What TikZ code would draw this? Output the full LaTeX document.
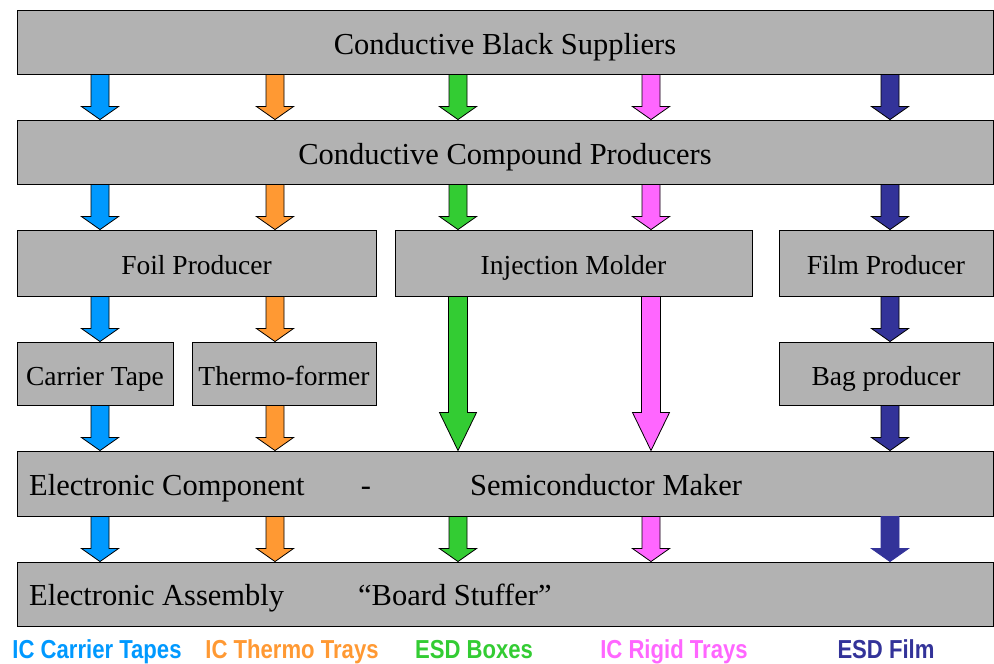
\documentclass[tikz,border=0pt]{standalone}
\usepackage{fontspec}
\setmainfont{Liberation Serif}
\newfontfamily\legendfont[FakeStretch=0.85]{Liberation Sans}
\usetikzlibrary{calc}

\definecolor{boxgray}{HTML}{B2B2B2}
\definecolor{cblue}{HTML}{0099FF}
\definecolor{corange}{HTML}{FF9933}
\definecolor{cgreen}{HTML}{33CC33}
\definecolor{cpink}{HTML}{FF66FF}
\definecolor{cnavy}{HTML}{333399}

% block arrow from the bottom of one node to the top of another,
% placed on a column coordinate; #1 = head length, #6 = shaft half width
\newcommand\flowarrow[6][13pt]{%
  \path[draw=black, line width=0.8pt, line join=miter, #2]
    let \p1=(#3 |- #4.south), \p2=(#3 |- #5.north) in
    ({\x1-#6},\y1) -- ({\x1+#6},\y1) -- ({\x1+#6},{\y2+#1})
    -- ({\x1+18.5pt},{\y2+#1}) -- (\x1,\y2) -- ({\x1-18.5pt},{\y2+#1})
    -- ({\x1-#6},{\y2+#1}) -- cycle;}

\begin{document}
\begin{tikzpicture}[x=1pt,y=-1pt,
  box/.style={draw=black, fill=boxgray, line width=0.9pt, inner sep=0pt,
    rectangle, text height=25pt, text depth=0pt,
    font=\fontsize{30.5}{34}\selectfont},
  smallbox/.style={box, text height=23pt, font=\fontsize{27.5}{31}\selectfont},
  rowtext/.style={inner sep=0pt, font=\fontsize{30.5}{34}\selectfont},
  legend/.style={inner sep=0pt, anchor=base,
    font=\legendfont\bfseries\fontsize{26}{30}\selectfont}]

\useasboundingbox[fill=white] (0,0) rectangle (994,664);

% column positions of the material streams
\coordinate (cA) at (100,0);
\coordinate (cB) at (275,0);
\coordinate (cC) at (458,0);
\coordinate (cD) at (651,0);
\coordinate (cE) at (890,0);

% supply chain levels
\node[box, minimum width=976pt, minimum height=64pt] (sup) at (505,42) {Conductive Black Suppliers};
\node[box, minimum width=976pt, minimum height=64pt] (comp) at (505,152) {Conductive Compound Producers};

\node[smallbox, minimum width=359pt, minimum height=66pt] (foil) at (196.5,263) {Foil Producer};
\node[smallbox, minimum width=357pt, minimum height=66pt] (inj) at (573.5,263) {Injection Molder};
\node[smallbox, minimum width=214pt, minimum height=66pt] (film) at (886,263) {Film Producer};

\node[smallbox, minimum width=156pt, minimum height=63pt] (tape) at (95,373.5) {Carrier Tape};
\node[smallbox, minimum width=184pt, minimum height=63pt] (thermo) at (284,373.5) {Thermo-former};
\node[smallbox, minimum width=214pt, minimum height=63pt] (bag) at (886,373.5) {Bag producer};

\node[box, minimum width=976pt, minimum height=65pt] (maker) at (505,483.5) {};
\node[rowtext, anchor=base west] (makerA) at (29,495) {Electronic Component};
\node[rowtext, anchor=base] (makerB) at (366,495) {-};
\node[rowtext, anchor=base west] (makerC) at (470,495) {Semiconductor Maker};

\node[box, minimum width=976pt, minimum height=64pt] (assy) at (505,594) {};
\node[rowtext, anchor=base west] (assyA) at (29,605) {Electronic Assembly};
\node[rowtext, anchor=base west] (assyB) at (358,605) {“Board Stuffer”};

% suppliers -> compounders
\flowarrow{fill=cblue}{cA}{sup}{comp}{9pt}
\flowarrow{fill=corange}{cB}{sup}{comp}{9pt}
\flowarrow{fill=cgreen}{cC}{sup}{comp}{9pt}
\flowarrow{fill=cpink}{cD}{sup}{comp}{9pt}
\flowarrow{fill=cnavy}{cE}{sup}{comp}{9pt}

% compounders -> converters
\flowarrow{fill=cblue}{cA}{comp}{foil}{9pt}
\flowarrow{fill=corange}{cB}{comp}{foil}{9pt}
\flowarrow{fill=cgreen}{cC}{comp}{inj}{9pt}
\flowarrow{fill=cpink}{cD}{comp}{inj}{9pt}
\flowarrow{fill=cnavy}{cE}{comp}{film}{9pt}

% converters -> fabricators
\flowarrow{fill=cblue}{cA}{foil}{tape}{9pt}
\flowarrow{fill=corange}{cB}{foil}{thermo}{9pt}
\flowarrow{fill=cnavy}{cE}{film}{bag}{9pt}

% direct streams to the component makers
\flowarrow[38pt]{fill=cgreen}{cC}{inj}{maker}{9.5pt}
\flowarrow[38pt]{fill=cpink}{cD}{inj}{maker}{9.5pt}

% fabricators -> component makers
\flowarrow{fill=cblue}{cA}{tape}{maker}{9pt}
\flowarrow{fill=corange}{cB}{thermo}{maker}{9pt}
\flowarrow{fill=cnavy}{cE}{bag}{maker}{9pt}

% component makers -> board assembly
\flowarrow{fill=cblue}{cA}{maker}{assy}{9pt}
\flowarrow{fill=corange}{cB}{maker}{assy}{9pt}
\flowarrow{fill=cgreen}{cC}{maker}{assy}{9pt}
\flowarrow{fill=cpink}{cD}{maker}{assy}{9pt}
\flowarrow{fill=cnavy, draw=cnavy}{cE}{maker}{assy}{9pt}

% product legend
\node[legend, text=cblue] (lgA) at (97,658) {IC Carrier Tapes};
\node[legend, text=corange] (lgB) at (292,658) {IC Thermo Trays};
\node[legend, text=cgreen] (lgC) at (474,658) {ESD Boxes};
\node[legend, text=cpink] (lgD) at (674,658) {IC Rigid Trays};
\node[legend, text=cnavy] (lgE) at (886,658) {ESD Film};
\end{tikzpicture}
\end{document}
